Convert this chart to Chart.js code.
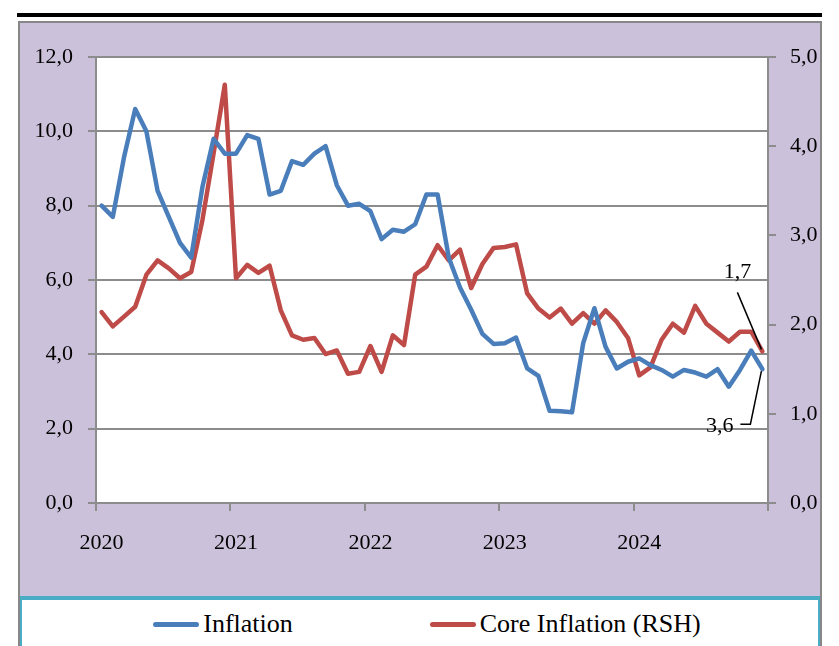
<!DOCTYPE html>
<html>
<head>
<meta charset="utf-8">
<title>Inflation</title>
<script src="https://cdn.jsdelivr.net/npm/chart.js@4.4.1/dist/chart.umd.min.js"></script>
<style>
  html, body { margin: 0; padding: 0; background: #fff; width: 839px; height: 646px; overflow: hidden; }
  #rule { position: absolute; left: 17px; top: 13px; width: 805px; height: 4px; background: #000; }
  #frame { position: absolute; left: 18px; top: 21px; width: 800px; height: 623px; border: 2px solid #878787; border-bottom: none; }
  #panel { height: 573px; background: #CCC1DA; }
  #legend {
    box-sizing: border-box; height: 50px; padding-top: 2px; padding-left: 14px;
    border-top: 4px solid #4BACC6; border-left: 2px solid #4BACC6; border-right: 2px solid #4BACC6;
    display: flex; justify-content: center; align-items: center; gap: 137px;
    font-family: "Liberation Serif", serif; font-size: 26px; color: #000;
  }
  #legend .item { display: flex; align-items: center; }
  #legend .swatch { width: 46px; height: 5px; border-radius: 3px; margin-right: 4px; }
  #chart { position: absolute; left: 0; top: 0; }
</style>
</head>
<body>
<div id="rule"></div>
<div id="frame">
  <div id="panel"></div>
  <div id="legend"></div>
</div>
<canvas id="chart" width="839" height="646"></canvas>

<script>
// 数据：2020年1月 - 2024年12月，月度
const years = ['2020', '2021', '2022', '2023', '2024'];
const monthNames = ['Jan', 'Feb', 'Mar', 'Apr', 'May', 'Jun', 'Jul', 'Aug', 'Sep', 'Oct', 'Nov', 'Dec'];

// 通胀（左轴）
const inflation = [
    8.0, 7.7, 9.3, 10.6, 10.0, 8.4, 7.7, 7.0, 6.6, 8.5, 9.8, 9.4,
    9.4, 9.9, 9.8, 8.3, 8.4, 9.2, 9.1, 9.4, 9.6, 8.55, 8.0, 8.05,
    7.85, 7.1, 7.35, 7.3, 7.5, 8.3, 8.3, 6.6, 5.8, 5.2, 4.55, 4.28,
    4.3, 4.45, 3.62, 3.42, 2.48, 2.47, 2.44, 4.3, 5.24, 4.2, 3.62, 3.8,
    3.89, 3.71, 3.58, 3.4, 3.58, 3.51, 3.4, 3.6, 3.13, 3.58, 4.1, 3.6
];

// 核心通胀（右轴）
const coreInflation = [
    2.14, 1.98, 2.09, 2.2, 2.56, 2.72, 2.63, 2.52, 2.59, 3.17, 3.92, 4.69,
    2.52, 2.67, 2.58, 2.66, 2.16, 1.88, 1.83, 1.85, 1.67, 1.71, 1.45, 1.47,
    1.76, 1.47, 1.88, 1.77, 2.56, 2.65, 2.89, 2.72, 2.84, 2.41, 2.68, 2.86,
    2.87, 2.9, 2.35, 2.18, 2.08, 2.18, 2.01, 2.13, 2.01, 2.16, 2.03, 1.85,
    1.43, 1.52, 1.83, 2.01, 1.91, 2.21, 2.01, 1.91, 1.81, 1.92, 1.92, 1.7
];

// 刻度
const leftTicks = [0, 2, 4, 6, 8, 10, 12];
const rightTicks = [0, 1, 2, 3, 4, 5];

// 类别：每月一个
const months = [];
years.forEach(y => monthNames.forEach(m => months.push(m + ' ' + y)));

const axisGray = '#8C8C8C';
const blue = '#4A7EBB';
const red = '#BE4B48';
const serif = { family: '"Liberation Serif", serif', size: 22 };

// 数字用逗号作小数点
const fmt = v => Number(v).toFixed(1).replace('.', ',');

// 绘图区白色背景
const plotBackground = {
    id: 'plotBackground',
    beforeDraw(chart) {
        const { ctx, chartArea: a } = chart;
        ctx.save();
        ctx.fillStyle = '#fff';
        ctx.fillRect(a.left, a.top, a.right - a.left, a.bottom - a.top);
        ctx.restore();
    }
};

// 最后一个点的数值标注和引线
const endLabels = {
    id: 'endLabels',
    afterDatasetsDraw(chart) {
        const { ctx, scales } = chart;
        const last = months.length - 1;
        const px = scales.x.getPixelForValue(last);
        const pyCore = scales.y1.getPixelForValue(coreInflation[last]);
        const pyInf = scales.y.getPixelForValue(inflation[last]);

        ctx.save();
        ctx.strokeStyle = '#000';
        ctx.lineWidth = 1.5;
        ctx.fillStyle = '#000';
        ctx.font = '22px "Liberation Serif", serif';
        ctx.textBaseline = 'middle';

        // 核心通胀
        ctx.beginPath();
        ctx.moveTo(px - 25, pyCore - 59);
        ctx.lineTo(px - 1, pyCore - 2);
        ctx.stroke();
        ctx.textAlign = 'center';
        ctx.fillText(fmt(coreInflation[last]), px - 25, pyCore - 79);

        // 通胀
        ctx.beginPath();
        ctx.moveTo(px - 1, pyInf + 2);
        ctx.lineTo(px - 12, pyInf + 55);
        ctx.lineTo(px - 22, pyInf + 55);
        ctx.stroke();
        ctx.textAlign = 'right';
        ctx.fillText(fmt(inflation[last]), px - 29, pyInf + 57);
        ctx.restore();
    }
};

const chart = new Chart(document.getElementById('chart'), {
    type: 'line',
    data: {
        labels: months,
        datasets: [{
            label: 'Inflation',
            data: inflation,
            yAxisID: 'y',
            borderColor: blue,
            backgroundColor: blue,
            borderWidth: 4.5,
            borderJoinStyle: 'round',
            borderCapStyle: 'round',
            pointRadius: 0,
            tension: 0
        }, {
            label: 'Core Inflation (RSH)',
            data: coreInflation,
            yAxisID: 'y1',
            borderColor: red,
            backgroundColor: red,
            borderWidth: 4.5,
            borderJoinStyle: 'round',
            borderCapStyle: 'round',
            pointRadius: 0,
            tension: 0
        }]
    },
    options: {
        responsive: false,
        animation: false,
        layout: { padding: { left: 0, right: 0, top: 57, bottom: 83 } },
        plugins: {
            legend: { display: false },
            tooltip: { enabled: false }
        },
        scales: {
            x: {
                type: 'category',
                offset: true,
                afterFit: s => { s.height = 60; },
                border: { color: axisGray, width: 2 },
                grid: {
                    offset: true,
                    drawOnChartArea: false,
                    tickLength: 8,
                    lineWidth: 2,
                    color: c => (c.index === undefined || c.index % 12 === 0) ? axisGray : 'rgba(0,0,0,0)'
                },
                ticks: {
                    autoSkip: false,
                    maxRotation: 0,
                    padding: 19,
                    color: '#000',
                    font: serif,
                    callback: (v, i) => i % 12 === 0 ? years[i / 12] : ''
                }
            },
            y: {
                position: 'left',
                min: 0,
                max: 12,
                afterFit: s => { s.width = 96; },
                afterBuildTicks: s => { s.ticks = leftTicks.map(v => ({ value: v })); },
                border: { color: axisGray, width: 2 },
                grid: { color: axisGray, lineWidth: 2, tickLength: 8 },
                ticks: { padding: 15, color: '#000', font: serif, callback: v => fmt(v) }
            },
            y1: {
                position: 'right',
                min: 0,
                max: 5,
                afterFit: s => { s.width = 71; },
                afterBuildTicks: s => { s.ticks = rightTicks.map(v => ({ value: v })); },
                border: { color: axisGray, width: 2 },
                grid: { drawOnChartArea: false, color: axisGray, lineWidth: 2, tickLength: 8 },
                ticks: { padding: 14, color: '#000', font: serif, callback: v => fmt(v) }
            }
        }
    },
    plugins: [plotBackground, endLabels]
});

// HTML 图例
const legend = document.getElementById('legend');
chart.data.datasets.forEach(ds => {
    const item = document.createElement('div');
    item.className = 'item';
    const swatch = document.createElement('span');
    swatch.className = 'swatch';
    swatch.style.background = ds.borderColor;
    const text = document.createElement('span');
    text.textContent = ds.label;
    item.appendChild(swatch);
    item.appendChild(text);
    legend.appendChild(item);
});
</script>
</body>
</html>
